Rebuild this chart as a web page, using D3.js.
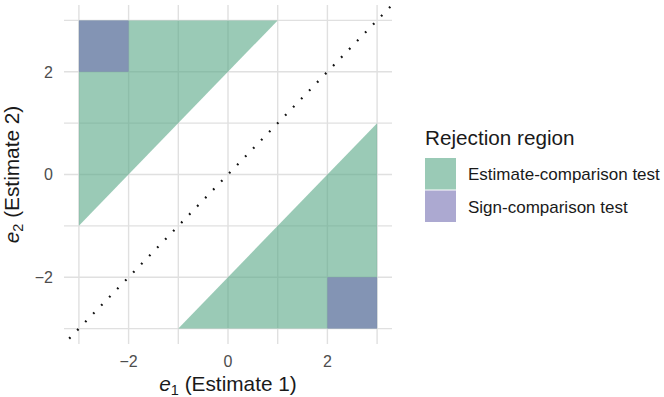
<!DOCTYPE html>
<html>
<head>
<meta charset="utf-8">
<script src="https://cdn.jsdelivr.net/npm/d3@7"></script>
<style>
  html, body { margin: 0; padding: 0; background: #fff; }
  svg { display: block; font-family: "Liberation Sans", Arial, Helvetica, sans-serif; }
</style>
</head>
<body>
<div id="chart"></div>
<script>
// ---- data ----
const gridBreaks = [-3, -2, -1, 0, 1, 2, 3];
const xTickLabels = [-2, 0, 2];
const yTickLabels = [-2, 0, 2];
// Estimate-comparison test rejection region (polygons in e1/e2 space)
const estimateRegions = [
  [[-3, -1], [-3, 3], [1, 3]],
  [[-1, -3], [3, -3], [3, 1]]
];
// Sign-comparison test rejection region (rectangles)
const signRegions = [
  { x0: -3, x1: -2, y0: 2, y1: 3 },
  { x0: 2, x1: 3, y0: -3, y1: -2 }
];
const diagonal = [[-4, -4], [4, 4]];
const legendLabels = ["Estimate-comparison test", "Sign-comparison test"];
const legendTitle = "Rejection region";

// ---- layout ----
const W = 664, H = 397;
const panel = { left: 64, right: 392, top: 5, bottom: 344 };
const greenBase = "rgb(87,167,133)";
const purpleBase = "#7570b3";
const fillOpacity = 0.6;

const svg = d3.select("#chart").append("svg").attr("width", W).attr("height", H);

const x = d3.scaleLinear().domain([-3.3, 3.3]).range([panel.left, panel.right]);
const y = d3.scaleLinear().domain([-3.3, 3.3]).range([panel.bottom, panel.top]);

// grid
const grid = svg.append("g");
grid.selectAll("line.v").data(gridBreaks).join("line")
  .attr("x1", d => x(d)).attr("x2", d => x(d))
  .attr("y1", panel.top).attr("y2", panel.bottom)
  .attr("stroke", "#e0e0e0").attr("stroke-width", 1.4);
grid.selectAll("line.h").data(gridBreaks).join("line")
  .attr("y1", d => y(d)).attr("y2", d => y(d))
  .attr("x1", panel.left).attr("x2", panel.right)
  .attr("stroke", "#e0e0e0").attr("stroke-width", 1.4);

svg.append("clipPath").attr("id", "clip").append("rect")
  .attr("x", panel.left).attr("y", panel.top)
  .attr("width", panel.right - panel.left).attr("height", panel.bottom - panel.top);

const plot = svg.append("g").attr("clip-path", "url(#clip)");

const line = d3.line().x(d => x(d[0])).y(d => y(d[1]));
plot.selectAll("path.ec").data(estimateRegions).join("path")
  .attr("d", d => line(d) + "Z")
  .attr("fill", greenBase).attr("fill-opacity", fillOpacity);

plot.selectAll("rect.sc").data(signRegions).join("rect")
  .attr("x", d => x(d.x0)).attr("y", d => y(d.y1))
  .attr("width", d => x(d.x1) - x(d.x0)).attr("height", d => y(d.y0) - y(d.y1))
  .attr("fill", purpleBase).attr("fill-opacity", fillOpacity);

plot.append("path").datum(diagonal)
  .attr("d", line)
  .attr("stroke", "#111").attr("stroke-width", 2.2)
  .attr("stroke-dasharray", "1.8 9.7")
  .attr("fill", "none");

// axis tick labels
svg.append("g").selectAll("text").data(xTickLabels).join("text")
  .attr("x", d => x(d)).attr("y", 367)
  .attr("text-anchor", "middle")
  .attr("font-size", 16).attr("fill", "#4d4d4d")
  .text(d => d < 0 ? "\u2212" + Math.abs(d) : d);

svg.append("g").selectAll("text").data(yTickLabels).join("text")
  .attr("x", 53).attr("y", d => y(d)).attr("dy", "0.36em")
  .attr("text-anchor", "end")
  .attr("font-size", 16).attr("fill", "#4d4d4d")
  .text(d => d < 0 ? "\u2212" + Math.abs(d) : d);

// axis titles
const xt = svg.append("text")
  .attr("x", (panel.left + panel.right) / 2).attr("y", 391)
  .attr("text-anchor", "middle").attr("font-size", 20.8).attr("fill", "#1a1a1a");
xt.append("tspan").attr("font-style", "italic").text("e");
xt.append("tspan").attr("font-size", 14.5).attr("dy", 4).text("1");
xt.append("tspan").attr("dy", -4).text(" (Estimate 1)");

const yt = svg.append("text")
  .attr("transform", `translate(19,${(panel.top + panel.bottom) / 2}) rotate(-90)`)
  .attr("text-anchor", "middle").attr("font-size", 20.8).attr("fill", "#1a1a1a");
yt.append("tspan").attr("font-style", "italic").text("e");
yt.append("tspan").attr("font-size", 14.5).attr("dy", 4).text("2");
yt.append("tspan").attr("dy", -4).text(" (Estimate 2)");

// legend
const lg = svg.append("g");
lg.append("text").attr("x", 425).attr("y", 145)
  .attr("font-size", 20.7).attr("fill", "#1a1a1a").text(legendTitle);
const keyFills = [greenBase, purpleBase];
const keys = lg.selectAll("g.key").data(legendLabels).join("g")
  .attr("transform", (d, i) => `translate(425,${158 + i * 32.5})`);
keys.append("rect").attr("width", 31).attr("height", 31.5)
  .attr("fill", (d, i) => keyFills[i]).attr("fill-opacity", fillOpacity);
keys.append("text").attr("x", 43).attr("y", 16).attr("dy", "0.36em")
  .attr("font-size", 17).attr("fill", "#1a1a1a").text(d => d);
</script>
</body>
</html>
